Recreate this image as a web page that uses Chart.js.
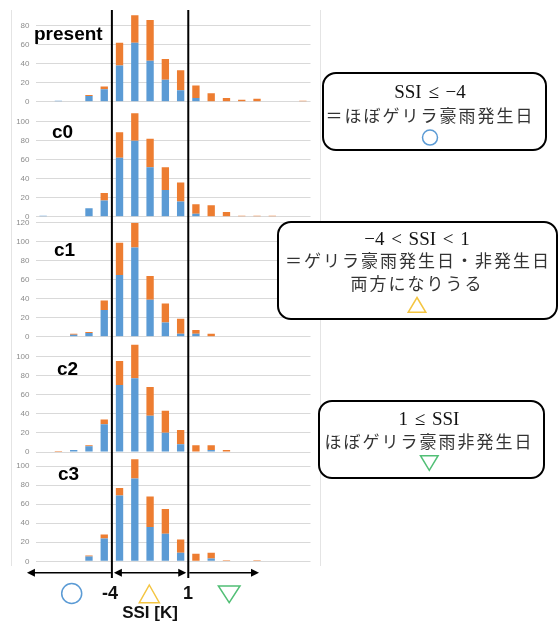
<!DOCTYPE html>
<html>
<head>
<meta charset="utf-8">
<script src="https://cdn.jsdelivr.net/npm/chart.js@4.4.0/dist/chart.umd.min.js"></script>
<style>
  html, body { margin: 0; padding: 0; background: #fff; }
  body { width: 558px; height: 623px; position: relative; overflow: hidden; }
  .panel { position: absolute; left: 11px; width: 308px; background: #fff;
           border-left: 1px solid #e4e4e4; border-right: 1px solid #e4e4e4; z-index: 1; }
  .panel canvas { display: block; }
  .box { position: absolute; box-sizing: border-box; border: 2.5px solid #000;
         border-radius: 14px; background: #fff; z-index: 2; }
  #overlay { position: absolute; left: 0; top: 0; z-index: 3; pointer-events: none; }
  .t { position: absolute; white-space: nowrap; z-index: 4; }
  .tag { font: bold 19px/0 "Liberation Sans", Arial, sans-serif; color: #000; }
  .c { width: 400px; text-align: center; }
  .math { font-family: "Liberation Serif", serif; font-size: 19px; line-height: 0; color: #111; word-spacing: 2px; }
  .jp { font-family: "Noto Sans CJK JP", sans-serif; font-size: 17px; line-height: 0; color: #333; letter-spacing: 2px; }
  .axis { font: bold 18px/0 "Liberation Sans", Arial, sans-serif; color: #111; }
  .axis.unit { font-size: 17px; }
</style>
</head>
<body>

<div class="panel" style="top:10px"><canvas id="pPresent" width="308" height="95"></canvas></div>
<div class="panel" style="top:105px"><canvas id="pC0" width="308" height="114"></canvas></div>
<div class="panel" style="top:219px"><canvas id="pC1" width="308" height="121"></canvas></div>
<div class="panel" style="top:340px"><canvas id="pC2" width="308" height="115"></canvas></div>
<div class="panel" style="top:455px"><canvas id="pC3" width="308" height="111"></canvas></div>

<!-- panel names -->
<div class="t tag" style="left:34px;top:34px">present</div>
<div class="t tag" style="left:52px;top:131.5px">c0</div>
<div class="t tag" style="left:54px;top:250px">c1</div>
<div class="t tag" style="left:57px;top:369px">c2</div>
<div class="t tag" style="left:58px;top:474px">c3</div>

<!-- classification boxes -->
<div class="box" style="left:321.5px;top:72px;width:225px;height:79px"></div>
<div class="box" style="left:277px;top:220.5px;width:281px;height:99px"></div>
<div class="box" style="left:318px;top:400px;width:226.5px;height:79px"></div>

<div class="t c math" style="left:230px;top:91.5px">SSI ≤ −4</div>
<div class="t c jp" style="left:230px;top:114.5px">＝ほぼゲリラ豪雨発生日</div>

<div class="t c math" style="left:217px;top:238.5px">−4 &lt; SSI &lt; 1</div>
<div class="t c jp" style="left:218px;top:260px">＝ゲリラ豪雨発生日・非発生日</div>
<div class="t c jp" style="left:217px;top:283px">両方になりうる</div>

<div class="t c math" style="left:229px;top:418.5px">1 ≤ SSI</div>
<div class="t c jp" style="left:229px;top:441px">ほぼゲリラ豪雨非発生日</div>

<!-- axis annotation -->
<div class="t c axis" style="left:-90px;top:593px">-4</div>
<div class="t c axis" style="left:-12px;top:593px">1</div>
<div class="t c axis unit" style="left:-50px;top:612.5px">SSI [K]</div>

<canvas id="overlay" width="558" height="623"></canvas>

<script>
// SSI bins (lower edge, K)
const ssiBins = ['-9','-8','-7','-6','-5','-4','-3','-2','-1','0','1','2','3','4','5','6','7','8'];
const seriesNames = ['ゲリラ豪雨発生日', 'ゲリラ豪雨非発生日'];
const yTickValues = [0, 20, 40, 60, 80, 100, 120];

// day counts per SSI bin
const presentRain   = [0,1,0,6,13,38,62,43,23,12,4,0,0,0,0,0,0,0];
const presentNoRain = [0,0,0,1,3,24,29,43,22,21,13,9,4,2,3,0,0,1];
const c0Rain        = [1,0,0,9,17,62,80,52,28,16,3,0,0,0,0,0,0,0];
const c0NoRain      = [0,0,0,0,8,27,29,30,24,20,10,12,5,1,1,1,0,0];
const c1Rain        = [0,0,2,4,28,65,94,39,15,3,3,0,0,0,0,0,0,0];
const c1NoRain      = [0,0,1,1,10,34,26,25,20,16,4,3,0,0,0,0,0,0];
const c2Rain        = [0,0,2,6,29,70,77,38,20,8,0,2,0,0,0,0,0,0];
const c2NoRain      = [0,1,0,1,5,25,35,30,23,15,7,5,2,0,0,0,0,0];
const c3Rain        = [0,0,0,5,24,69,87,36,29,9,0,3,0,0,0,0,0,0];
const c3NoRain      = [0,0,0,1,4,8,20,32,26,14,8,6,1,0,1,0,0,0];

const BLUE = '#5b9bd5', ORANGE = '#ed7d31';

function makePanel(id, rain, noRain, yMax, padTop, padBottom) {
  return new Chart(document.getElementById(id), {
    type: 'bar',
    data: {
      labels: ssiBins,
      datasets: [
        { label: seriesNames[0], data: rain, backgroundColor: BLUE,
          barPercentage: 0.48, categoryPercentage: 1 },
        { label: seriesNames[1], data: noRain, backgroundColor: ORANGE,
          barPercentage: 0.48, categoryPercentage: 1 }
      ]
    },
    options: {
      responsive: false,
      animation: false,
      devicePixelRatio: 1,
      layout: { padding: { left: 0, right: 9.5, top: padTop, bottom: padBottom } },
      plugins: { legend: { display: false }, tooltip: { enabled: false } },
      scales: {
        x: { stacked: true, display: false },
        y: {
          stacked: true, min: 0, max: yMax,
          afterBuildTicks: s => { s.ticks = yTickValues.filter(v => v <= yMax).map(v => ({ value: v })); },
          afterFit: s => { s.width = 23.5; s.paddingTop = 0; s.paddingBottom = 0; },
          grid: { color: '#d9d9d9', lineWidth: 1, drawTicks: false },
          border: { display: false },
          ticks: { padding: 6, color: '#8c8c8c', font: { family: 'Liberation Sans', size: 8 } }
        }
      }
    }
  });
}

const charts = [
  makePanel('pPresent', presentRain, presentNoRain, 95, 1.45, 3.3),
  makePanel('pC0', c0Rain, c0NoRain, 116, 1.5, 2.3),
  makePanel('pC1', c1Rain, c1NoRain, 120, 3.7, 3.3),
  makePanel('pC2', c2Rain, c2NoRain, 116, 1, 3),
  makePanel('pC3', c3Rain, c3NoRain, 110, 1.5, 4.7)
];

// threshold lines and classification symbols
const ov = document.getElementById('overlay');
const g = ov.getContext('2d');
const xs = charts[4].scales.x;
const canvasLeft = 12;
const px = v => canvasLeft + xs.getPixelForValue(v);

const xLow = px(4.5);   // SSI = -4
const xHigh = px(9.5);  // SSI = 1

g.strokeStyle = '#000';
g.lineWidth = 2;
[xLow, xHigh].forEach(x => {
  g.beginPath(); g.moveTo(x, 10); g.lineTo(x, 578); g.stroke();
});

function arrowHead(x, y, dir) {
  g.beginPath();
  g.moveTo(x, y);
  g.lineTo(x - dir * 8, y - 4);
  g.lineTo(x - dir * 8, y + 4);
  g.closePath();
  g.fill();
}
const ay = 572.7;
g.fillStyle = '#000';
g.lineWidth = 1.5;
const leftTip = px(-1.06), rightTip = px(14.13);
g.beginPath(); g.moveTo(xLow - 1, ay); g.lineTo(leftTip + 4, ay); g.stroke();
arrowHead(leftTip, ay, -1);
g.beginPath(); g.moveTo(xLow + 4, ay); g.lineTo(xHigh - 4, ay); g.stroke();
arrowHead(xLow + 2, ay, -1);
arrowHead(xHigh - 2, ay, 1);
g.beginPath(); g.moveTo(xHigh + 1, ay); g.lineTo(rightTip - 4, ay); g.stroke();
arrowHead(rightTip, ay, 1);

function circle(cx, cy, r, color) {
  g.strokeStyle = color; g.lineWidth = 1.5;
  g.beginPath(); g.arc(cx, cy, r, 0, Math.PI * 2); g.stroke();
}
function triangle(cx, yTop, yBottom, half, up, color) {
  g.strokeStyle = color; g.lineWidth = 1.5;
  g.beginPath();
  if (up) {
    g.moveTo(cx, yTop); g.lineTo(cx + half, yBottom); g.lineTo(cx - half, yBottom);
  } else {
    g.moveTo(cx - half, yTop); g.lineTo(cx + half, yTop); g.lineTo(cx, yBottom);
  }
  g.closePath(); g.stroke();
}

const YELLOW = '#f4c542', GREEN = '#52bf76';
// symbols inside the boxes
circle(430, 137.6, 7.5, BLUE);
triangle(417, 297.5, 312.3, 8.8, true, YELLOW);
triangle(429.3, 455.7, 470.3, 8.8, false, GREEN);
// symbols under the axis
circle(71.7, 593.5, 10, BLUE);
triangle(149.3, 585, 602.7, 10, true, YELLOW);
triangle(229.2, 586, 602.7, 10.8, false, GREEN);
</script>
</body>
</html>
